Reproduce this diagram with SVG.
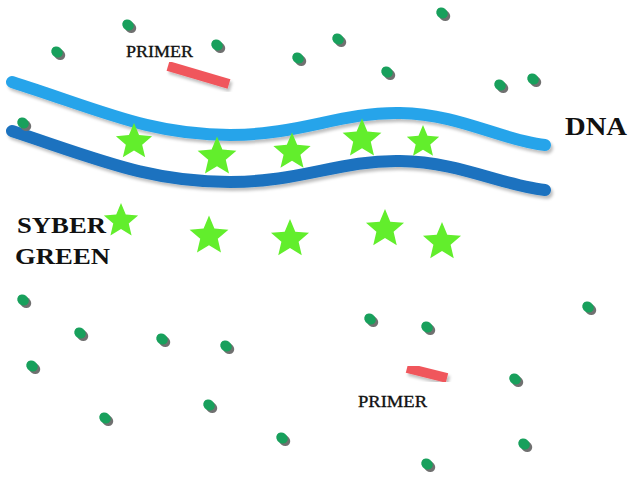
<svg xmlns="http://www.w3.org/2000/svg" xmlns:xlink="http://www.w3.org/1999/xlink" width="630" height="486" viewBox="0 0 630 486">
<style>
.lbl{font-family:"Liberation Serif","Times New Roman",serif;font-weight:bold;fill:#111;}
.plbl{font-family:"Liberation Serif","Times New Roman",serif;font-weight:normal;fill:#111;stroke:#111;stroke-width:0.35;}
.strand{fill:none;stroke-width:12;stroke-linecap:round;}
.star{fill:#62ee2c;}
.primer{stroke:#f0575c;stroke-width:10;stroke-linecap:butt;}
</style>
<defs>
<filter id="sh" x="-20%" y="-20%" width="140%" height="160%">
<feGaussianBlur in="SourceAlpha" stdDeviation="1.5"/>
<feOffset dx="2" dy="3" result="b"/>
<feFlood flood-color="#000" flood-opacity="0.25"/>
<feComposite in2="b" operator="in"/>
<feMerge><feMergeNode/><feMergeNode in="SourceGraphic"/></feMerge>
</filter>
<g id="dot">
<ellipse cx="2.5" cy="2.5" rx="6" ry="5.2" transform="rotate(35 2.5 2.5)" fill="#707070"/>
<ellipse cx="0" cy="0" rx="6" ry="5.2" transform="rotate(35)" fill="#18a05c"/>
</g>
<path id="star" d="M0,-20 L5.3,-7.3 L19.02,-6.18 L8.6,2.8 L11.76,16.18 L0,9 L-11.76,16.18 L-8.6,2.8 L-19.02,-6.18 L-5.3,-7.3 Z"/>
</defs>
<rect width="630" height="486" fill="#ffffff"/>

<g id="dna" filter="url(#sh)">
<path class="strand" stroke="#28a4ea" d="M12,82 C100,110 150,135 230,135 C300,135 340,112 400,113 C460,114 500,140 545,145"/>
<path class="strand" stroke="#1b72bf" d="M12,131 C100,160 150,182 230,182 C300,182 340,160 400,161 C460,162 500,185 545,190"/>
</g>

<g id="dots">
<use xlink:href="#dot" x="128" y="25"/>
<use xlink:href="#dot" x="57" y="52"/>
<use xlink:href="#dot" x="217" y="45"/>
<use xlink:href="#dot" x="298" y="58"/>
<use xlink:href="#dot" x="338" y="39"/>
<use xlink:href="#dot" x="442" y="13"/>
<use xlink:href="#dot" x="387" y="72"/>
<use xlink:href="#dot" x="500" y="85"/>
<use xlink:href="#dot" x="533" y="79"/>
<use xlink:href="#dot" x="23" y="123"/>
<use xlink:href="#dot" x="23" y="300"/>
<use xlink:href="#dot" x="80" y="333"/>
<use xlink:href="#dot" x="162" y="339"/>
<use xlink:href="#dot" x="226" y="346"/>
<use xlink:href="#dot" x="32" y="366"/>
<use xlink:href="#dot" x="105" y="418"/>
<use xlink:href="#dot" x="209" y="405"/>
<use xlink:href="#dot" x="282" y="438"/>
<use xlink:href="#dot" x="370" y="319"/>
<use xlink:href="#dot" x="427" y="327"/>
<use xlink:href="#dot" x="588" y="307"/>
<use xlink:href="#dot" x="515" y="379"/>
<use xlink:href="#dot" x="524" y="444"/>
<use xlink:href="#dot" x="427" y="464"/>
</g>

<g id="stars">
<use xlink:href="#star" class="star" transform="translate(134,142) scale(0.95)"/>
<use xlink:href="#star" class="star" transform="translate(217,157) scale(1.02)"/>
<use xlink:href="#star" class="star" transform="translate(292,152) scale(0.98)"/>
<use xlink:href="#star" class="star" transform="translate(362,139) scale(1.02)"/>
<use xlink:href="#star" class="star" transform="translate(423,142) scale(0.85)"/>
<use xlink:href="#star" class="star" transform="translate(121,221) scale(0.9)"/>
<use xlink:href="#star" class="star" transform="translate(209,236) scale(1.02)"/>
<use xlink:href="#star" class="star" transform="translate(290,239) scale(1.0)"/>
<use xlink:href="#star" class="star" transform="translate(385,229) scale(1.0)"/>
<use xlink:href="#star" class="star" transform="translate(442,242) scale(1.0)"/>
</g>

<g id="primer-top">
<line class="primer" filter="url(#sh)" x1="168" y1="66" x2="229" y2="84"/>
<text class="plbl" x="126" y="57" font-size="17" textLength="67" lengthAdjust="spacingAndGlyphs">PRIMER</text>
</g>
<g id="primer-bottom">
<line class="primer" filter="url(#sh)" x1="407" y1="368" x2="447" y2="378"/>
<text class="plbl" x="358" y="407" font-size="17" textLength="69" lengthAdjust="spacingAndGlyphs">PRIMER</text>
</g>

<g id="labels">
<text class="lbl" x="565" y="135" font-size="25" textLength="62" lengthAdjust="spacingAndGlyphs">DNA</text>
<text class="lbl" x="17" y="233" font-size="23" textLength="89" lengthAdjust="spacingAndGlyphs">SYBER</text>
<text class="lbl" x="15" y="264" font-size="23" textLength="95" lengthAdjust="spacingAndGlyphs">GREEN</text>
</g>
</svg>
